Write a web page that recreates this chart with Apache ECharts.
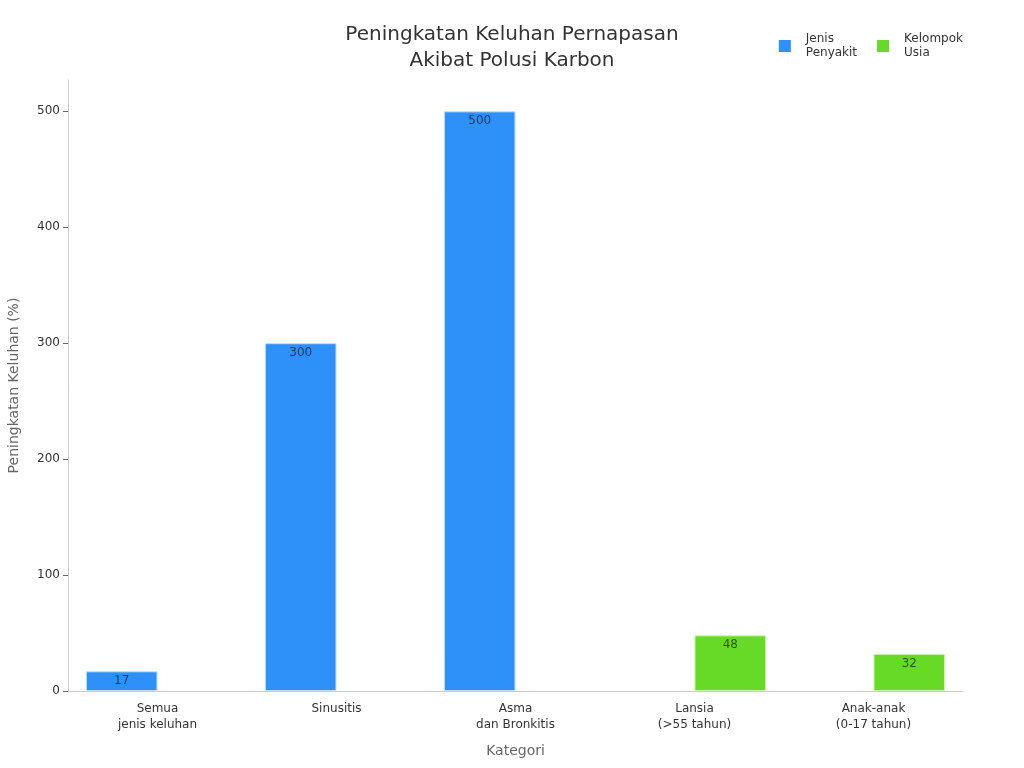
<!DOCTYPE html>
<html>
<head>
<meta charset="utf-8">
<script src="https://cdn.jsdelivr.net/npm/echarts@6/dist/echarts.min.js"></script>
<style>
  html, body { margin: 0; padding: 0; background: #fff; }
  #chart { width: 1024px; height: 768px; }
</style>
</head>
<body>
<div id="chart"></div>
<script>
const categories = ['Semua\njenis keluhan', 'Sinusitis', 'Asma\ndan Bronkitis', 'Lansia\n(>55 tahun)', 'Anak-anak\n(0-17 tahun)'];
const jenisPenyakit = [17, 300, 500, null, null];
const kelompokUsia = [null, null, null, 48, 32];
const yTicks = [0, 100, 200, 300, 400, 500];

const chart = echarts.init(document.getElementById('chart'));

const barLabel = {
  show: true,
  position: 'insideTop',
  distance: 4,
  color: 'rgba(0,0,0,0.6)',
  fontSize: 12,
  fontFamily: 'DejaVu Sans'
};

chart.setOption({
  textStyle: { fontFamily: 'DejaVu Sans' },
  title: {
    text: 'Peningkatan Keluhan Pernapasan\nAkibat Polusi Karbon',
    left: 'center',
    top: 17,
    textStyle: { fontSize: 20, fontWeight: 'normal', color: '#333', lineHeight: 26, fontFamily: 'DejaVu Sans' }
  },
  legend: {
    right: 56,
    top: 27,
    icon: 'rect',
    itemWidth: 12,
    itemHeight: 12,
    itemGap: 20,
    itemStyle: { borderWidth: 0 },
    textStyle: { fontSize: 12, color: '#333', lineHeight: 14, padding: [0, 0, 0, 10] },
    data: ['Jenis\nPenyakit', 'Kelompok\nUsia']
  },
  grid: { left: 68, right: 61, top: 80, bottom: 77, outerBoundsMode: 'none' },
  xAxis: {
    type: 'category',
    data: categories,
    name: 'Kategori',
    nameLocation: 'middle',
    nameGap: 53,
    nameTextStyle: { fontSize: 14, color: '#666' },
    axisLine: { lineStyle: { color: '#ccc' } },
    axisTick: { alignWithLabel: true, lineStyle: { color: '#999' } },
    axisLabel: { color: '#333', fontSize: 12, lineHeight: 16, margin: 10 }
  },
  yAxis: {
    type: 'value',
    min: 0,
    max: 527,
    interval: 100,
    name: 'Peningkatan Keluhan (%)',
    nameLocation: 'middle',
    nameGap: 47,
    nameTextStyle: { fontSize: 14, color: '#666' },
    axisLine: { show: true, lineStyle: { color: '#ccc' } },
    axisTick: { show: true, lineStyle: { color: '#666' } },
    axisLabel: {
      color: '#333',
      fontSize: 12,
      showMaxLabel: false,
      formatter: v => (yTicks.includes(v) ? String(v) : '')
    },
    splitLine: { show: false }
  },
  series: [
    {
      name: 'Jenis\nPenyakit',
      type: 'bar',
      data: jenisPenyakit,
      barWidth: '40%',
      barGap: '0%',
      itemStyle: { color: '#2e90f9', borderColor: '#bfe0ff', borderWidth: 1 },
      label: barLabel
    },
    {
      name: 'Kelompok\nUsia',
      type: 'bar',
      data: kelompokUsia,
      barWidth: '40%',
      itemStyle: { color: '#67da27', borderColor: '#c8f5a8', borderWidth: 1 },
      label: barLabel
    }
  ]
});
</script>
</body>
</html>
